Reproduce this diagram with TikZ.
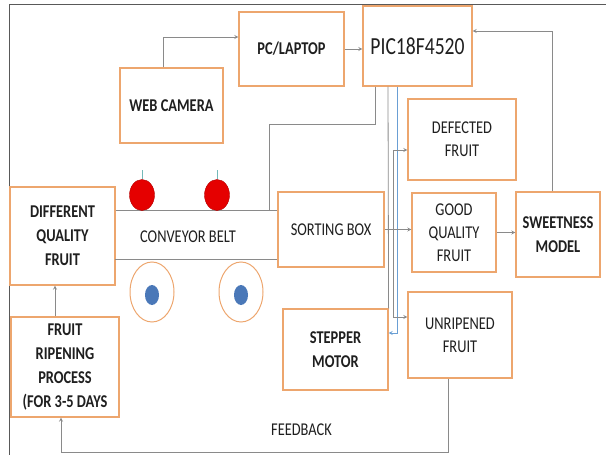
\documentclass[tikz,border=0pt]{standalone}
\usepackage{fontspec}
\newfontfamily\diafont[FakeStretch=0.8]{Carlito}
\usepackage{tikz}
\definecolor{boxorange}{HTML}{EDA66E}
\definecolor{linegray}{HTML}{8A8A8A}
\definecolor{wireblue}{HTML}{6A9FD4}
\definecolor{rollblue}{HTML}{4A78B8}
\tikzset{
    box/.style={draw=boxorange,fill=white,line width=1.2pt,align=center,
        inner sep=1pt,text=black!88,font=\diafont\fontsize{18}{23}\selectfont},
    boldbox/.style={box,font=\diafont\fontsize{18}{24}\selectfont\bfseries},
    wire/.style={draw=linegray,line width=0.8pt},
}

\begin{document}
\begin{tikzpicture}[>=stealth,x=1pt,y=-1pt]
    \useasboundingbox (0,0) rectangle (606,455);
    % frame of the figure
    \draw[black!65,line width=1pt] (9,455) -- (9,4) -- (606,4);

    % blocks
    \node[boldbox,minimum width=103pt,minimum height=75pt] (cam) at (171.5,105.5) {WEB CAMERA};
    \node[boldbox,minimum width=105pt,minimum height=74pt] (pc) at (291.5,49) {PC/LAPTOP};
    \node[box,minimum width=109pt,minimum height=80pt,
        font=\diafont\fontsize{24.5}{26}\selectfont] (pic) at (417.5,46) {PIC18F4520};
    \node[box,minimum width=108pt,minimum height=81pt] (defect) at (462,139.5) {DEFECTED\\FRUIT};
    \node[box,minimum width=84pt,minimum height=79pt] (good) at (454,232.5) {GOOD\\QUALITY\\FRUIT};
    \node[boldbox,minimum width=84pt,minimum height=85pt] (sweet) at (558,234.5) {SWEETNESS\\MODEL};
    \node[box,minimum width=104pt,minimum height=86pt] (unrip) at (460,335) {UNRIPENED\\FRUIT};
    \node[boldbox,minimum width=105pt,minimum height=81pt] (stepper) at (335.5,349.5) {STEPPER\\MOTOR};
    \node[box,minimum width=106pt,minimum height=75pt] (sort) at (331,229.5) {SORTING BOX};
    \node[boldbox,minimum width=105pt,minimum height=98pt] (diff) at (62.5,236)
        {DIFFERENT\\QUALITY\\FRUIT};
    \node[boldbox,minimum width=108pt,minimum height=100pt] (ripen) at (65,367)
        {FRUIT\\RIPENING\\PROCESS\\(FOR 3-5 DAYS};

    % conveyor belt with rollers and wheels
    \coordinate (camtap) at (269,210);
    \draw[wire] (diff.east |- camtap) -- (sort.west |- camtap);
    \draw[wire] (115,259) -- (sort.west |- 0,259);
    \node[font=\diafont\fontsize{18}{20}\selectfont,text=black!88] (belt) at (188,237) {CONVEYOR BELT};
    \foreach \rx/\wx in {142/152,217/241} {
        \draw[teal!55,line width=0.5pt] (\rx,170) -- (\rx,179);
        \fill[red!90!black,draw=red!70!black] (\rx,195) ellipse (12.5 and 15.5);
        \draw[boxorange,line width=1pt] (\wx,292) ellipse (22 and 30);
        \fill[rollblue] (\wx,295) ellipse (7 and 10);
    }

    % connectors
    \draw[wire,->] ([xshift=-8.5pt]cam.north) |- ([yshift=12pt]pc.west);
    \draw[wire,->] (pc.east) -- (pc.east -| pic.west);
    \draw[wire] ([xshift=-42.5pt]pic.south) -- ++(0,38) -| (camtap);
    \draw[wire] ([xshift=-29.5pt]pic.south) -- (stepper.north east);
    \draw[draw=wireblue,line width=0.8pt,->] ([xshift=-20.5pt]pic.south)
        |- ([yshift=16.5pt]stepper.east);
    \coordinate (split) at (393,229.5);
    \draw[wire,->] (sort.east) -- (sort.east -| good.west);
    \draw[wire,->] (split) |- ([yshift=-10.5pt]defect.west);
    \draw[wire,->] (split) |- ([yshift=18pt]unrip.west);
    \draw[wire,->] (good.east) -- (good.east -| sweet.west);
    \draw[wire,->] ([xshift=-6pt]sweet.north) |- ([yshift=15pt]pic.east);
    \draw[wire,->] ([xshift=-12pt]unrip.south) -- ++(0,74) -| ([xshift=-4pt]ripen.south);
    \draw[wire,->] ([xshift=-10pt]ripen.north) -- ([xshift=-10pt]ripen.north |- diff.south);
    \node[font=\diafont\fontsize{18}{20}\selectfont,text=black!88] (fb) at (301.5,430) {FEEDBACK};
\end{tikzpicture}
\end{document}
